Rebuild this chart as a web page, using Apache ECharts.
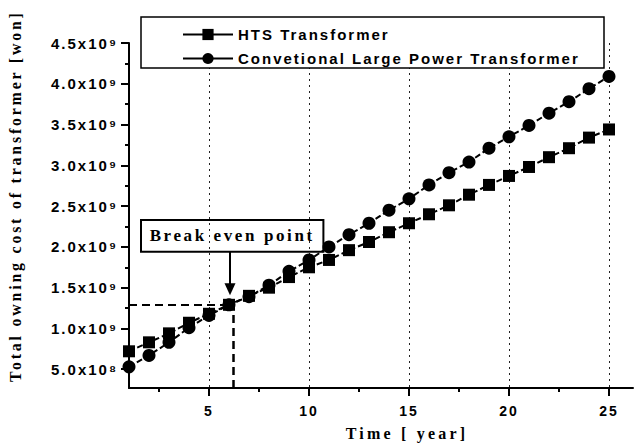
<!DOCTYPE html>
<html>
<head>
<meta charset="utf-8">
<script src="https://cdn.jsdelivr.net/npm/echarts@6/dist/echarts.min.js"></script>
<style>
  html, body { margin: 0; padding: 0; background: #fff; }
  #chart { width: 638px; height: 447px; }
  /* the scanned figure is set with wide letter spacing */
  #chart text { letter-spacing: 2px; }
  #chart text[style*="16px"] { letter-spacing: 3.2px; }
  #chart text[style*="15.9px"] { letter-spacing: 2.8px; }
  #chart text[style*="17px"] { letter-spacing: 2.6px; }
</style>
</head>
<body>
<div id="chart"></div>
<script>
// 年份与两种变压器的总拥有成本（单位 10^9 won）
const years = [1, 2, 3, 4, 5, 6, 7, 8, 9, 10, 11, 12, 13, 14, 15, 16, 17, 18, 19, 20, 21, 22, 23, 24, 25];
const htsCost = [0.72, 0.83, 0.94, 1.07, 1.18, 1.29, 1.40, 1.50, 1.63, 1.75, 1.84, 1.96, 2.06, 2.18, 2.29,
  2.40, 2.51, 2.64, 2.76, 2.87, 2.98, 3.10, 3.21, 3.34, 3.44];
const convCost = [0.53, 0.67, 0.83, 1.01, 1.16, 1.29, 1.39, 1.53, 1.70, 1.84, 2.00, 2.15, 2.29, 2.45, 2.59,
  2.76, 2.91, 3.04, 3.21, 3.35, 3.49, 3.64, 3.78, 3.94, 4.09];

// 刻度
const xMajorTicks = [5, 10, 15, 20, 25];
const xMinorTicks = [2.5, 7.5, 12.5, 17.5, 22.5];
const yMajorTicks = [0.5, 1.0, 1.5, 2.0, 2.5, 3.0, 3.5, 4.0, 4.5];
const yMinorTicks = [0.75, 1.25, 1.75, 2.25, 2.75, 3.25, 3.75, 4.25];
const yTickLabels = ['5.0x10⁸', '1.0x10⁹', '1.5x10⁹', '2.0x10⁹', '2.5x10⁹', '3.0x10⁹', '3.5x10⁹', '4.0x10⁹', '4.5x10⁹'];

// 盈亏平衡点
const breakEven = [6.2, 1.29];

const X_MIN = 1, X_MAX = 26.2, Y_MIN = 0.27, Y_MAX = 4.5;
const SANS = 'Liberation Sans';
const SERIF = 'Liberation Serif';

const chart = echarts.init(document.getElementById('chart'), null, { renderer: 'svg' });

const axisLineStyle = { color: '#000', width: 2 };

chart.setOption({
  animation: false,
  grid: { left: 129, right: 5, top: 43, bottom: 59 },
  legend: {
    left: 177,
    top: 22,
    orient: 'vertical',
    itemWidth: 50,
    itemHeight: 14,
    itemGap: 9,
    z: 6,
    lineStyle: { type: 'solid', width: 2, color: '#000' },
    textStyle: { fontFamily: SANS, fontWeight: 'bold', fontSize: 15, color: '#000' },
    data: ['HTS Transformer', 'Convetional Large Power Transformer']
  },
  graphic: [
    {
      type: 'rect',
      z: 5,
      shape: { x: 141, y: 17, width: 463, height: 51 },
      style: { fill: '#fff', stroke: '#000', lineWidth: 1.5 }
    },
    {
      type: 'text',
      x: 15,
      y: 382,
      rotation: Math.PI / 2,
      style: {
        text: 'Total owning cost of transformer [won]',
        fontFamily: SERIF, fontWeight: 'bold', fontSize: 15.9, fill: '#000',
        textAlign: 'left', textVerticalAlign: 'middle'
      }
    },
    {
      type: 'text',
      x: 407,
      y: 433,
      style: {
        text: 'Time [ year]',
        fontFamily: SERIF, fontWeight: 'bold', fontSize: 16, fill: '#000',
        textAlign: 'center', textVerticalAlign: 'middle'
      }
    }
  ],
  xAxis: [
    {
      type: 'value',
      min: X_MIN,
      max: X_MAX,
      axisLine: { lineStyle: axisLineStyle },
      axisTick: { customValues: xMajorTicks, length: 8, lineStyle: { color: '#000', width: 2 } },
      axisLabel: {
        customValues: xMajorTicks,
        margin: 16,
        fontFamily: SANS, fontWeight: 'bold', fontSize: 14, color: '#000'
      },
      splitLine: { show: true, lineStyle: { color: '#222', width: 1, type: [2, 4] } }
    },
    {
      type: 'value',
      position: 'bottom',
      min: X_MIN,
      max: X_MAX,
      axisLine: { show: false },
      axisTick: { customValues: xMinorTicks, length: 4, lineStyle: { color: '#000', width: 2 } },
      axisLabel: { show: false },
      splitLine: { show: false }
    }
  ],
  yAxis: [
    {
      type: 'value',
      min: Y_MIN,
      max: Y_MAX,
      axisLine: { show: true, lineStyle: axisLineStyle },
      axisTick: { show: true, customValues: yMajorTicks, length: 8, lineStyle: { color: '#000', width: 2 } },
      axisLabel: {
        customValues: yMajorTicks,
        margin: 11,
        fontFamily: SANS, fontWeight: 'bold', fontSize: 15, color: '#000',
        formatter: function (v) {
          const i = yMajorTicks.findIndex(t => Math.abs(t - v) < 1e-6);
          return i >= 0 ? yTickLabels[i] : '';
        }
      },
      splitLine: { show: false }
    },
    {
      type: 'value',
      position: 'left',
      min: Y_MIN,
      max: Y_MAX,
      axisLine: { show: false },
      axisTick: { show: true, customValues: yMinorTicks, length: 4, lineStyle: { color: '#000', width: 2 } },
      axisLabel: { show: false },
      splitLine: { show: false }
    }
  ],
  series: [
    {
      name: 'HTS Transformer',
      type: 'line',
      symbol: 'rect',
      symbolSize: 12,
      itemStyle: { color: '#000' },
      lineStyle: { color: '#000', width: 2, type: [6, 3] },
      data: years.map((y, i) => [y, htsCost[i]]),
      markLine: {
        silent: true,
        symbol: 'none',
        label: { show: false },
        data: [
          [
            { coord: [X_MIN, breakEven[1]], lineStyle: { color: '#000', width: 2, type: [8, 5] } },
            { coord: [breakEven[0], breakEven[1]] }
          ],
          [
            { coord: [breakEven[0], Y_MIN], lineStyle: { color: '#000', width: 2.5, type: [8, 5] } },
            { coord: [breakEven[0], breakEven[1]] }
          ],
          [
            { coord: [6.05, 1.94], symbol: 'none', lineStyle: { color: '#000', width: 2, type: 'solid' } },
            { coord: [6.05, 1.48], symbol: 'triangle', symbolSize: [11, 12] }
          ]
        ]
      },
      markArea: {
        silent: true,
        itemStyle: { color: 'rgba(0,0,0,0)', borderColor: '#000', borderWidth: 2 },
        label: {
          show: true,
          position: 'inside',
          fontFamily: SERIF, fontWeight: 'bold', fontSize: 17, color: '#000'
        },
        data: [[
          { name: 'Break even point', coord: [1.6, 2.33] },
          { coord: [10.72, 1.94] }
        ]]
      }
    },
    {
      name: 'Convetional Large Power Transformer',
      type: 'line',
      symbol: 'circle',
      symbolSize: 13,
      itemStyle: { color: '#000' },
      lineStyle: { color: '#000', width: 2, type: [6, 3] },
      data: years.map((y, i) => [y, convCost[i]])
    }
  ]
});
</script>
</body>
</html>
